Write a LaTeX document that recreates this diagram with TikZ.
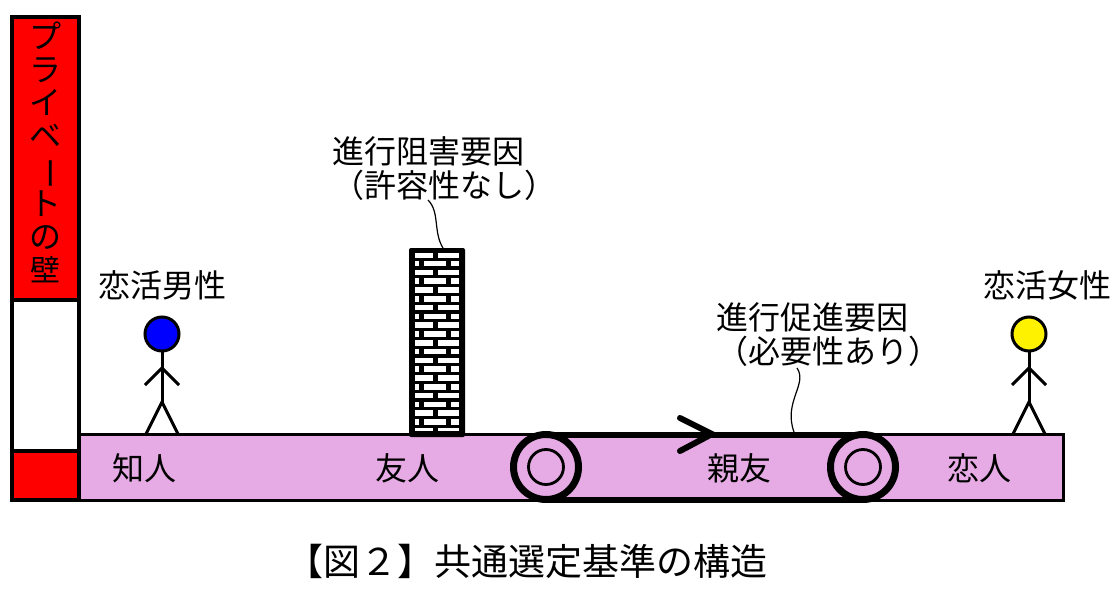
\documentclass[tikz,border=0pt]{standalone}
\usepackage{fontspec}
\setmainfont{Noto Sans CJK JP}
\usetikzlibrary{positioning}
\definecolor{bandpink}{RGB}{230,170,228}

\tikzset{
  label text/.style = {inner sep=0pt, font=\fontsize{32}{34}\selectfont, align=left},
  band/.style = {fill=bandpink, line width=3pt},
  leader/.style = {line width=1.2pt},
  limb/.style = {line width=3pt},
  pulley/.style = {circle, draw, line width=7pt, minimum size=65pt, inner sep=0pt, outer sep=0pt},
  hub/.style = {circle, draw, line width=2.8pt, minimum size=35pt, inner sep=0pt, outer sep=0pt},
  head/.style = {circle, draw, line width=3pt, minimum size=34pt, inner sep=0pt, outer sep=0pt},
}

\begin{document}
\begin{tikzpicture} [x=1pt, y=-1pt]
\useasboundingbox (0,0) rectangle (1117,597);

% wall
\draw [fill=red, line width=3.4pt] (12,17) rectangle (79,300);
\draw [fill=white, line width=3.4pt] (12,300) rectangle (79,451);
\draw [fill=red, line width=3.4pt] (12,451) rectangle (79,500);
\node (wall) [inner sep=0pt, font=\fontsize{32}{33}\selectfont, align=center, anchor=north] at (45.5,22)
  {プ\\ラ\\イ\\ベ\\\rotatebox[origin=c]{-90}{ー}\\ト\\の\\{\fontsize{30}{33}\selectfont 壁}};

% band
\draw [band] (79,434) rectangle (1063,500);
\node (know) [label text] at (144.5,468) {知人};
\node (friend) [label text] at (407,468) {友人};
\node (close) [label text] at (739,468) {親友};
\node (lover) [label text] at (979,468) {恋人};

% conveyor
\node (pulleyl) [pulley] at (546,467) {};
\node (pulleyr) [pulley] at (863,467) {};
\node (hubl) [hub] at (pulleyl) {};
\node (hubr) [hub] at (pulleyr) {};
\draw [line width=6pt] (pulleyl.north) -- (pulleyr.north);
\draw [line width=6pt] (pulleyl.south) -- (pulleyr.south);
\coordinate (chevt) at (680,418);
\coordinate (chevm) at (712,434);
\coordinate (chevb) at (680,451);
\draw [line width=6pt, line cap=round] (chevt) -- (chevm) -- (chevb);

% brick pillar
\fill [black, rounded corners=2pt] (409,248) rectangle (465,437);
\fill [white] (415.3,253.3) rectangle (459.3,430.7);
\foreach \y in {259.1,267.9,...,426.4}
  \draw [line width=3.2pt] (415.3,\y) -- (459.3,\y);
\foreach \y in {251.3,268.9,...,427.4}
  \draw [line width=5pt] (435,\y) -- (435,\y+8.8);
\foreach \y in {260.1,277.7,...,418.6} {
  \draw [line width=5pt] (421.7,\y) -- (421.7,\y+8.8);
  \draw [line width=5pt] (448.3,\y) -- (448.3,\y+8.8);
}
\coordinate (brickin) at (443,248);
\coordinate (beltin) at (794,432);

% people
\node (manhead) [head, fill=blue] at (162,334) {};
\coordinate (manneck) at (162,368);
\coordinate (manhip) at (162,402);
\coordinate (manhandl) at (145,385);
\coordinate (manhandr) at (179,385);
\coordinate (manfootl) at (146,434);
\coordinate (manfootr) at (178,434);
\draw [limb] (manhead.south) -- (manhip);
\draw [limb] (manhandl) -- (manneck) -- (manhandr);
\draw [limb] (manfootl) -- (manhip) -- (manfootr);

\node (womanhead) [head, fill=yellow] at (1029,334) {};
\coordinate (womanneck) at (1029,368);
\coordinate (womanhip) at (1029,402);
\coordinate (womanhandl) at (1012,385);
\coordinate (womanhandr) at (1046,385);
\coordinate (womanfootl) at (1013,434);
\coordinate (womanfootr) at (1045,434);
\draw [limb] (womanhead.south) -- (womanhip);
\draw [limb] (womanhandl) -- (womanneck) -- (womanhandr);
\draw [limb] (womanfootl) -- (womanhip) -- (womanfootr);

% labels
\node (man) [label text] at (162,285) {恋活男性};
\node (woman) [label text] at (1047,285) {恋活女性};
\node (block) [label text, anchor=west] at (332,169) {進行阻害要因\\（許容性なし）};
\node (boost) [label text, anchor=west] at (716,335) {進行促進要因\\（必要性あり）};
\node (title) [inner sep=0pt, font=\fontsize{37}{40}\selectfont] at (527,561) {【図２】共通選定基準の構造};

% leaders
\coordinate (blockout) at (428,200);
\coordinate (boostout) at (797,368);
\draw [leader] (blockout) .. controls (440,212) and (433,232) .. (brickin);
\draw [leader] (boostout) .. controls (808,384) and (783,402) .. (beltin);
\end{tikzpicture}
\end{document}
